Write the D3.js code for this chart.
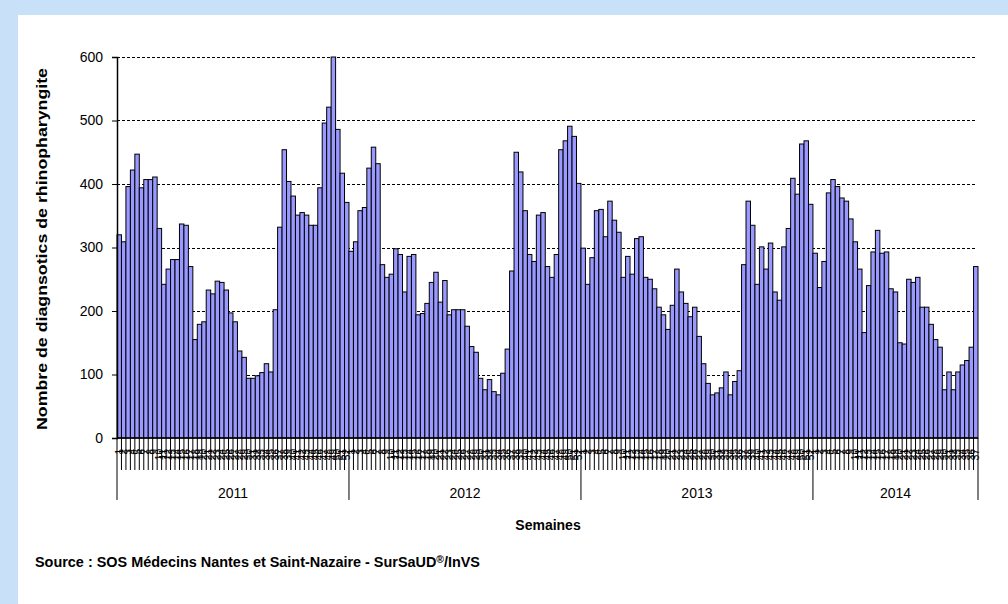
<!DOCTYPE html>
<html><head><meta charset="utf-8">
<script src="https://cdn.jsdelivr.net/npm/d3@7"></script>
<style>html,body{margin:0;padding:0;background:#fff;} svg{display:block;}</style>
</head><body>
<script>
// ---- data ----
const years = ["2011", "2012", "2013", "2014"];
const values2011 = [320,309,396,422,447,394,407,407,411,330,242,266,281,281,337,335,270,155,179,183,233,227,247,245,233,197,183,137,127,94,94,98,103,117,104,202,332,454,404,381,351,355,351,335,335,394,496,521,600,486,417,371];
const values2012 = [294,309,358,363,425,458,432,273,253,258,298,289,230,286,289,194,196,212,245,261,214,248,194,202,202,202,176,144,135,94,76,92,73,68,102,140,263,450,419,358,289,278,351,355,270,253,289,454,468,491,475,401];
const values2013 = [299,242,284,358,360,317,373,343,324,253,286,258,314,317,253,250,235,206,194,171,209,266,230,212,191,206,160,117,86,68,71,79,104,68,89,106,273,373,335,242,301,266,307,230,217,301,330,409,384,463,468,368];
const values2014 = [291,237,278,386,407,396,378,373,345,309,266,166,240,293,327,291,293,235,230,150,148,250,245,253,206,206,179,155,143,76,104,76,104,115,122,143,270];
const yTicks = [0, 100, 200, 300, 400, 500, 600];
const yTitle = "Nombre de diagnsotics de rhinopharyngite";
const xTitle = "Semaines";
const sourceMain = "Source : SOS Médecins Nantes et Saint-Nazaire - SurSaUD";
const sourceReg = "®";
const sourceEnd = "/InVS";

const series = [values2011, values2012, values2013, values2014];
const data = years.flatMap((yr, k) => series[k].map((v, j) => ({year: yr, week: j + 1, value: v})));

// ---- layout ----
const W = 1008, H = 604;
const L = 117, R = 978, T = 57, B = 438;
const FONT = "Arial, 'Liberation Sans', sans-serif";

const svg = d3.select("body").append("svg").attr("width", W).attr("height", H);
svg.append("rect").attr("width", W).attr("height", H).attr("fill", "#C8E0F8");
svg.append("rect").attr("x", 18).attr("y", 15).attr("width", W - 18).attr("height", H - 15).attr("fill", "#fff");

const x = d3.scaleBand().domain(d3.range(data.length)).range([L, R]).padding(0);
const y = d3.scaleLinear().domain([0, 600]).range([B, T]);

// gridlines
svg.append("g").selectAll("line").data(yTicks.filter(t => t > 0)).join("line")
  .attr("x1", L).attr("x2", R - 2)
  .attr("y1", d => Math.round(y(d)) + 0.5).attr("y2", d => Math.round(y(d)) + 0.5)
  .attr("stroke", "#000").attr("stroke-width", 1).attr("stroke-dasharray", "3,2");

// bars
svg.append("g").selectAll("rect").data(data).join("rect")
  .attr("x", (d, i) => x(i))
  .attr("width", x.bandwidth())
  .attr("y", d => y(d.value))
  .attr("height", d => B - y(d.value))
  .attr("fill", "#9999FF")
  .attr("stroke", "#000").attr("stroke-width", 1);

// y axis
const yAxis = d3.axisLeft(y).tickValues(yTicks).tickSize(5).tickPadding(9).tickFormat(d3.format("d"));
const gy = svg.append("g").attr("transform", `translate(${L},0)`).call(yAxis);
gy.select(".domain").attr("stroke", "#000").attr("stroke-width", 1.5);
gy.selectAll(".tick line").attr("stroke", "#000");
gy.selectAll(".tick text").attr("font-family", FONT).attr("font-size", 14).attr("fill", "#000");

// x axis line
svg.append("line").attr("x1", L).attr("x2", R).attr("y1", B).attr("y2", B)
  .attr("stroke", "#000").attr("stroke-width", 1.5);

// week separators
const bounds = d3.range(data.length + 1);
const yearStarts = [0];
years.forEach((yr, k) => yearStarts.push(yearStarts[k] + series[k].length));
svg.append("g").selectAll("line").data(bounds).join("line")
  .attr("x1", i => i < data.length ? x(i) : R).attr("x2", i => i < data.length ? x(i) : R)
  .attr("y1", B).attr("y2", i => yearStarts.includes(i) ? 500 : 470)
  .attr("stroke", "#000").attr("stroke-width", 1);

// week labels
svg.append("g").selectAll("text").data(data).join("text")
  .attr("transform", (d, i) => `translate(${x(i) + x.bandwidth() / 2 + 3.5},449) rotate(-90)`)
  .attr("text-anchor", "end")
  .attr("font-family", FONT).attr("font-size", 10).attr("fill", "#000")
  .text(d => d.week);

// year labels
svg.append("g").selectAll("text").data(years).join("text")
  .attr("x", (d, k) => {
    const a = x(yearStarts[k]);
    const b = yearStarts[k + 1] < data.length ? x(yearStarts[k + 1]) : R;
    return (a + b) / 2;
  })
  .attr("y", 498).attr("text-anchor", "middle")
  .attr("font-family", FONT).attr("font-size", 14).attr("fill", "#000")
  .text(d => d);

// axis titles
svg.append("text").attr("x", 548).attr("y", 530).attr("text-anchor", "middle")
  .attr("font-family", FONT).attr("font-size", 14).attr("font-weight", "bold").text(xTitle);
svg.append("text").attr("transform", "translate(47,249) rotate(-90)").attr("text-anchor", "middle")
  .attr("font-family", FONT).attr("font-size", 14).attr("font-weight", "bold")
  .attr("textLength", 362).attr("lengthAdjust", "spacingAndGlyphs").text(yTitle);

// source
const src = svg.append("text").attr("x", 35).attr("y", 567)
  .attr("font-family", FONT).attr("font-size", 14).attr("font-weight", "bold")
  .attr("textLength", 445).attr("lengthAdjust", "spacingAndGlyphs");
src.append("tspan").text(sourceMain);
src.append("tspan").attr("font-size", 10).attr("dy", -4).text(sourceReg);
src.append("tspan").attr("dy", 4).text(sourceEnd);
</script>
</body></html>
